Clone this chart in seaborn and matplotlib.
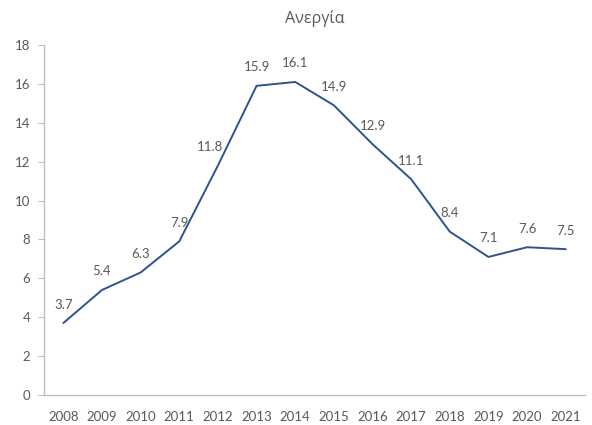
import matplotlib
matplotlib.use('Agg')
import matplotlib.pyplot as plt
import seaborn as sns
import pandas as pd

years = ['2008', '2009', '2010', '2011', '2012', '2013', '2014',
         '2015', '2016', '2017', '2018', '2019', '2020', '2021']
unemployment = [3.7, 5.4, 6.3, 7.9, 11.8, 15.9, 16.1,
                14.9, 12.9, 11.1, 8.4, 7.1, 7.6, 7.5]

df = pd.DataFrame({'year': years, 'value': unemployment})

sns.set_style('white')
plt.rcParams['font.family'] = ['Lato', 'DejaVu Sans']

fig = plt.figure(figsize=(5.92, 4.25), dpi=100)
ax = fig.add_axes([0.0743, 0.0706, 0.914, 0.8235])

sns.lineplot(data=df, x='year', y='value', ax=ax, color='#2F5290',
             linewidth=1.4, sort=False)

text_col = '#595959'
for i, v in enumerate(unemployment):
    dx = -6 if years[i] == '2012' else 0
    ax.annotate(f'{v}', (i, v), xytext=(dx, 9), textcoords='offset points',
                ha='center', va='bottom', fontsize=9.5, color=text_col)

ax.set_xlim(-0.5, len(years) - 0.5)
ax.set_ylim(0, 18)
ax.set_yticks(range(0, 19, 2))
ax.set_xlabel('')
ax.set_ylabel('')
ax.set_title('Ανεργία', fontsize=11.5, color=text_col, pad=16,
             family=['Open Sans', 'DejaVu Sans'])

for side in ['top', 'right']:
    ax.spines[side].set_visible(False)
for side in ['left', 'bottom']:
    ax.spines[side].set_color('#BFBFBF')
    ax.spines[side].set_linewidth(1.0)

ax.tick_params(axis='y', left=True, length=4, color='#BFBFBF',
               labelsize=9.5, labelcolor=text_col, pad=6)
ax.tick_params(axis='x', bottom=False, labelsize=9.5, labelcolor=text_col, pad=8)

fig.savefig('out.png', dpi=100)
